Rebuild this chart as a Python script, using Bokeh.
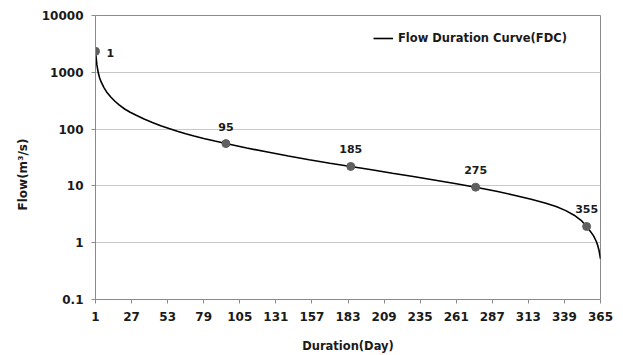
from bokeh.plotting import figure
from bokeh.models import (ColumnDataSource, FixedTicker, Legend, LegendItem, Title,
                          Range1d)
from bokeh.embed import file_html
from bokeh.resources import INLINE

# Flow duration curve: daily discharge ranked by exceedance (day of the year)
days = [1, 2, 3, 4, 5, 7, 9, 12, 15, 18, 22, 26, 30, 36, 42, 48, 54, 60, 66, 72,
        79, 87, 95, 110, 125, 140, 155, 170, 185, 200, 215, 230, 245, 260, 275,
        290, 302, 315, 325, 333, 340, 346, 351, 355, 358, 360, 362, 363, 364, 365]
flow = [2340, 1350, 980, 795, 684, 543, 452, 367, 309, 266, 226, 198, 177, 151,
        131, 115, 102, 91.6, 82.8, 75.5, 68.5, 61.5, 55.6, 46.5, 39.4, 33.5, 28.8,
        25.1, 22.0, 19.2, 16.7, 14.6, 12.7, 11.0, 9.5, 8.04, 6.92, 5.82, 5.01,
        4.32, 3.67, 3.05, 2.48, 1.93, 1.55, 1.32, 1.05, 0.89, 0.72, 0.52]

# Highlighted durations
marked_days = [1, 95, 185, 275, 355]
marked_flow = [flow[days.index(d)] for d in marked_days]
marked_text = [str(d) for d in marked_days]

x_ticks = list(range(1, 366, 26))
y_ticks = [0.1, 1, 10, 100, 1000, 10000]
y_tick_labels = ["0.1", "1", "10", "100", "1000", "10000"]

FONT = "DejaVu Sans"
TXT = "#1a1a1a"
AXIS = "#8a8a8a"

p = figure(width=623, height=355, output_backend="svg", toolbar_location=None,
           y_axis_type="log", x_range=Range1d(1, 365), y_range=Range1d(0.1, 10000),
           min_border_left=95, min_border_right=23, min_border_top=15,
           min_border_bottom=56)

p.outline_line_color = AXIS
p.outline_line_width = 1
p.background_fill_color = "white"
p.border_fill_color = "white"

# Axes
xa = p.xaxis[0]
xa.ticker = FixedTicker(ticks=x_ticks)
xa.axis_label = "Duration(Day)"
ya = p.yaxis[0]
ya.ticker = FixedTicker(ticks=y_ticks)
ya.major_label_overrides = {t: lbl for t, lbl in zip(y_ticks, y_tick_labels)}

for ax in (xa, ya):
    ax.axis_line_color = AXIS
    ax.major_tick_line_color = AXIS
    ax.minor_tick_line_color = None
    ax.major_tick_in = 0
    ax.major_tick_out = 4
    ax.major_label_text_font = FONT
    ax.major_label_text_font_style = "bold"
    ax.major_label_text_font_size = "12px"
    ax.major_label_text_color = TXT
    ax.axis_label_text_font = FONT
    ax.axis_label_text_font_style = "bold"
    ax.axis_label_text_font_size = "11.5px"
    ax.axis_label_text_color = TXT

xa.major_label_standoff = 8
xa.axis_label_standoff = 15
ya.major_label_standoff = 8

# Vertical axis title as a side title, starting a fixed distance above the frame bottom
p.add_layout(Title(text="Flow(m³/s)", align="left", offset=89,
                   text_font=FONT, text_font_style="bold", text_font_size="12px",
                   text_color=TXT, standoff=18), "left")

p.xgrid.grid_line_color = None
p.ygrid.grid_line_color = "#c8c8c8"
p.ygrid.grid_line_width = 1
p.ygrid.ticker = FixedTicker(ticks=y_ticks)

# Curve
src = ColumnDataSource(dict(x=days, y=flow))
curve = p.line("x", "y", source=src, line_color="black", line_width=1.6)

# Marked points and their labels
msrc = ColumnDataSource(dict(x=marked_days, y=marked_flow, t=marked_text))
p.scatter("x", "y", source=msrc, size=8, fill_color="#606060", line_color="#606060")

first = ColumnDataSource(dict(x=marked_days[:1], y=marked_flow[:1], t=marked_text[:1]))
rest = ColumnDataSource(dict(x=marked_days[1:], y=marked_flow[1:], t=marked_text[1:]))
p.text("x", "y", text="t", source=first, text_align="left", text_baseline="middle",
       x_offset=11, y_offset=2, text_font_size="11px", text_font_style="bold",
       text_color=TXT, text_font={"value": FONT})
p.text("x", "y", text="t", source=rest, text_align="center", text_baseline="middle",
       x_offset=0, y_offset=-17, text_font_size="11px", text_font_style="bold",
       text_color=TXT, text_font={"value": FONT})

legend = Legend(items=[LegendItem(label="Flow Duration Curve(FDC)", renderers=[curve])],
                location=(278, 251), padding=0, margin=0, spacing=0,
                glyph_width=20, glyph_height=20, label_standoff=5,
                border_line_alpha=0, background_fill_alpha=0,
                label_text_font=FONT, label_text_font_style="bold",
                label_text_font_size="11.5px", label_text_color=TXT)
p.add_layout(legend)

open("out.html", "w").write(file_html(p, INLINE))
